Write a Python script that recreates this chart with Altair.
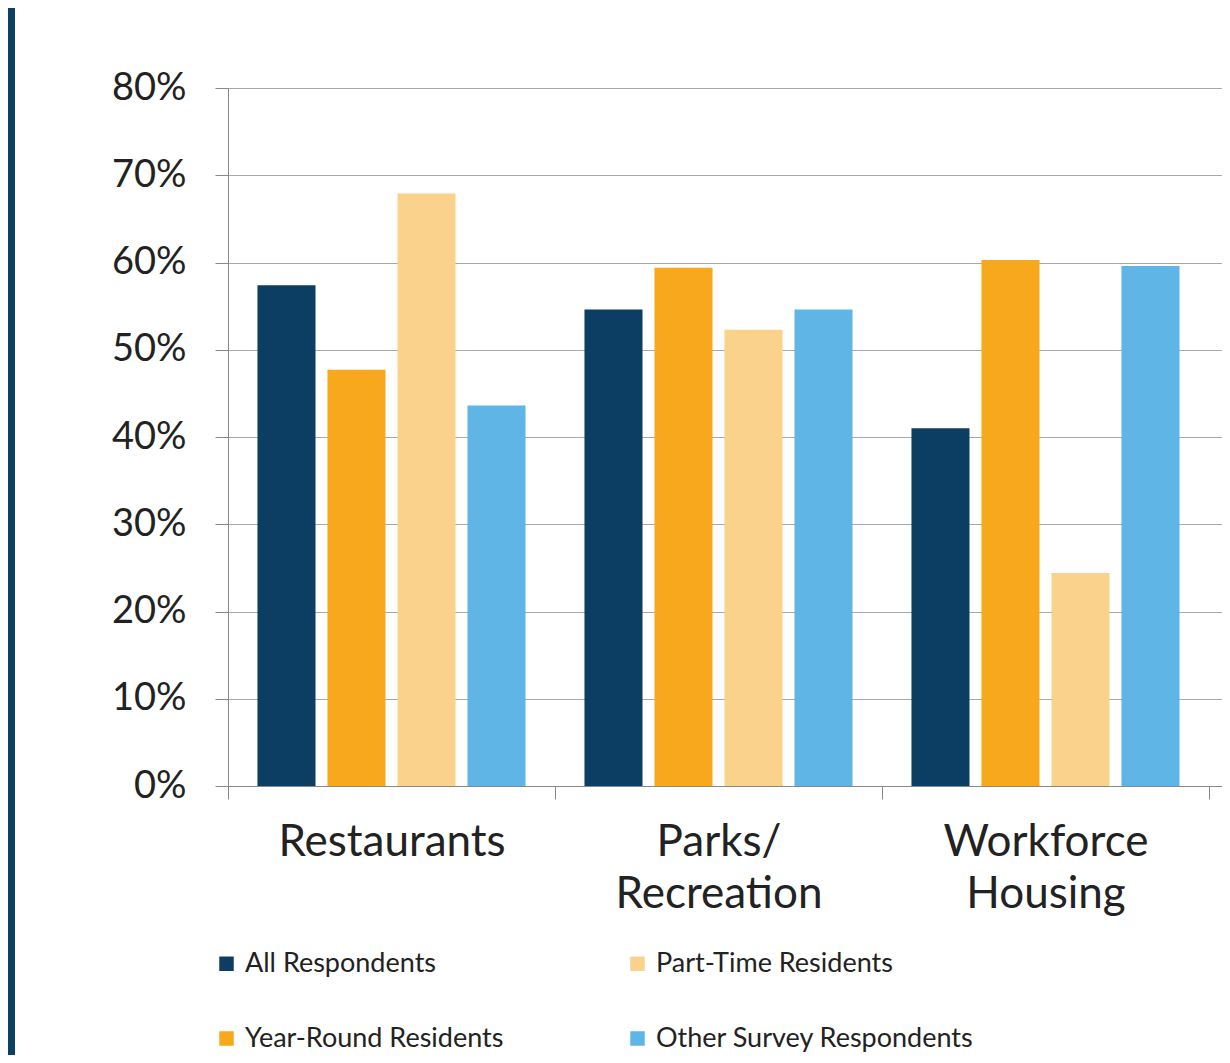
import altair as alt
import pandas as pd

categories = ["Restaurants", "Parks/ Recreation", "Workforce Housing"]
groups = ["All Respondents", "Year-Round Residents", "Part-Time Residents", "Other Survey Respondents"]
all_resp = [57.4, 54.6, 41.0]
year_round = [47.7, 59.4, 60.3]
part_time = [67.9, 52.3, 24.4]
other_resp = [43.6, 54.6, 59.6]
colors = {"All Respondents": "#0C3D63", "Year-Round Residents": "#F7A81C",
          "Part-Time Residents": "#FBD28B", "Other Survey Respondents": "#5FB5E5"}

series = [all_resp, year_round, part_time, other_resp]
rows = []
for g, vals in zip(groups, series):
    for c, v in zip(categories, vals):
        rows.append({"category": c, "group": g, "value": v})
df = pd.DataFrame(rows)

FONT = "Lato"
W, H = 994, 698

bars = alt.Chart(df).mark_bar().encode(
    x=alt.X("category:N", sort=categories, title=None,
            scale=alt.Scale(paddingInner=0, paddingOuter=0.0199, align=0),
            axis=alt.Axis(labelAngle=0, labelExpr="split(datum.label, ' ')",
                          labelFontSize=44, labelFont=FONT, labelColor="#222222",
                          labelLineHeight=52, labelPadding=21, labelBaseline="top",
                          labelLimit=0, tickSize=13, tickColor="#888888", domainColor="#888888",
                          tickBand="extent", grid=False)),
    xOffset=alt.XOffset("group:N", sort=groups,
                        scale=alt.Scale(paddingInner=0.171, paddingOuter=0.421)),
    y=alt.Y("value:Q", title=None,
            scale=alt.Scale(domain=[0, 80], nice=False),
            axis=alt.Axis(values=[0, 10, 20, 30, 40, 50, 60, 70, 80],
                          labelExpr="datum.value + '%'",
                          labelFontSize=38, labelFont=FONT, labelColor="#222222",
                          labelPadding=29, tickSize=13, tickColor="#888888", labelLimit=0,
                          domainColor="#888888", gridColor="#A8A8A8", gridWidth=1.2)),
    color=alt.Color("group:N",
                    scale=alt.Scale(domain=groups, range=[colors[g] for g in groups]),
                    legend=alt.Legend(title=None, orient="none", legendX=-15, legendY=862,
                                      values=groups,
                                      columns=2, symbolType="square", symbolSize=210,
                                      symbolStrokeWidth=0, labelFontSize=27, labelFont=FONT,
                                      labelColor="#222222", labelOffset=5, rowPadding=47,
                                      columnPadding=120, labelLimit=0)),
)

border = alt.Chart(alt.Data(values=[{"a": 1}])).mark_rect(color="#0B3F63").encode(
    x=alt.value(-220), x2=alt.value(-213), y=alt.value(-80), y2=alt.value(975)
)

chart = alt.layer(border, bars).properties(
    width=W, height=H,
    autosize=alt.AutoSizeParams(type="none"),
    padding={"left": 220, "top": 80, "right": 0, "bottom": 269},
    background="white",
).configure_view(stroke=None)

chart.save("out.html", embed_options={"renderer": "svg", "actions": False})
